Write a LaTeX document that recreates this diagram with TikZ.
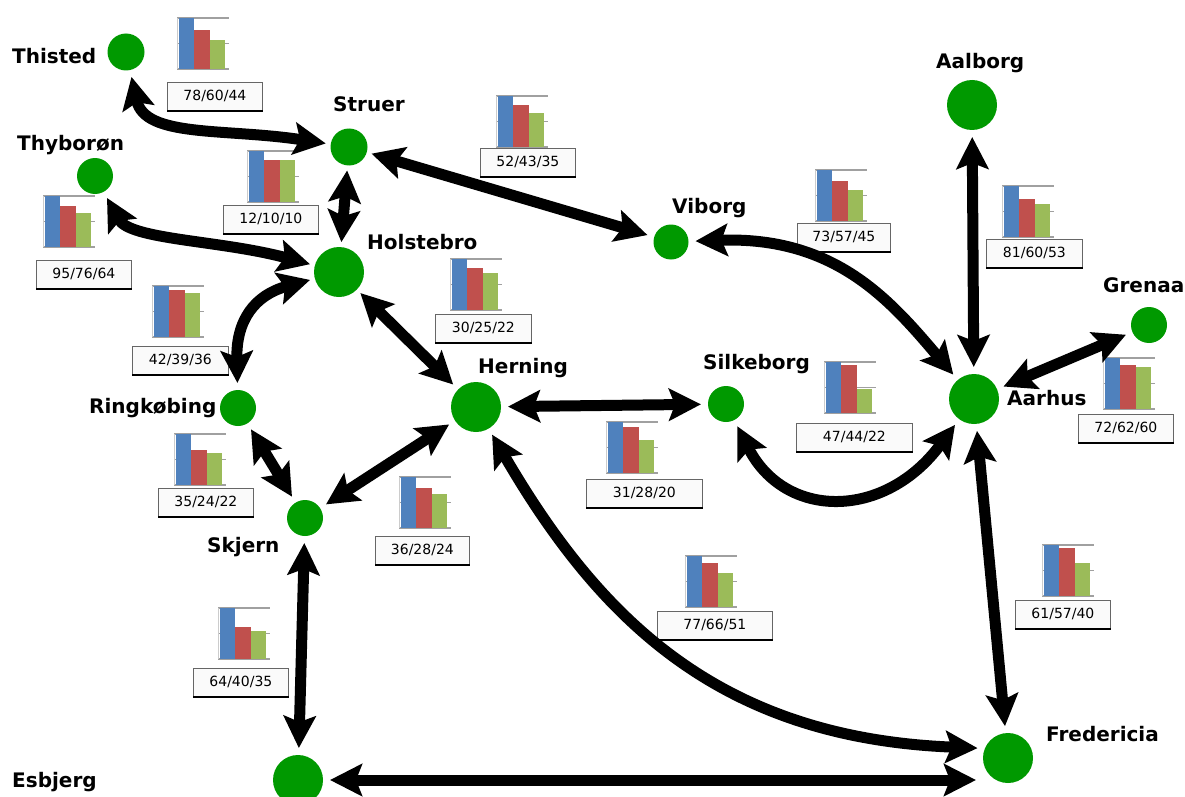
\documentclass[tikz,border=0pt]{standalone}
\usepackage{fontspec}
\setmainfont{DejaVu Sans}
\usetikzlibrary{arrows.meta}
\definecolor{cgreen}{RGB}{0,153,0}
\definecolor{cblue}{RGB}{79,129,189}
\definecolor{cred}{RGB}{192,80,77}
\definecolor{cgrn}{RGB}{155,187,89}
\definecolor{cgrid}{RGB}{160,160,160}
\tikzset{
  city/.style={circle, fill=cgreen, inner sep=0pt, outer sep=7pt, minimum size=#1pt},
  city/.default=36,
  cname/.style={font=\fontsize{20}{24}\selectfont\bfseries, inner sep=0pt, anchor=base west},
  valbox/.style={draw=black!60, fill=black!2, line width=0.8pt, minimum height=28pt, inner sep=0pt,
    font=\fontsize{14}{16}\selectfont},
  gridline/.style={cgrid, line width=1.5pt},
  axisline/.style={black!20, line width=1pt},
  link/.style={line width=11pt, >={Stealth[length=32pt,width=32pt,inset=6pt]}, <->},
}
\newcommand\minichart[9]{%
  \pgfmathsetmacro\hr{51*#5/#4}%
  \pgfmathsetmacro\hg{51*#6/#4}%
  \draw[gridline] (#2,#3) -- ++(52,0) (#2,#3+25.5) -- ++(52,0) (#2,#3+51) -- ++(52,0);
  \draw[axisline] (#2,#3) -- (#2,#3+51);
  \fill[cblue] (#2+2,#3+51) rectangle (#2+17,#3);
  \fill[cred] (#2+17,#3+51) rectangle (#2+33,#3+51-\hr);
  \fill[cgrn] (#2+33,#3+51) rectangle (#2+48,#3+51-\hg);
  \node[valbox, minimum width=#9pt, anchor=north west] (#1) at (#7,#8) {#4/#5/#6};
  \draw[line width=2pt] (#1.south west) -- (#1.south east);
}
\begin{document}
\begin{tikzpicture}[x=1pt, y=-1pt]
\useasboundingbox[fill=white] (0,0) rectangle (1185,797);

% charts
\minichart{c1}{177}{18}{78}{60}{44}{167}{82}{95}
\minichart{c2}{247}{151}{12}{10}{10}{223}{205}{95}
\minichart{c3}{43}{196}{95}{76}{64}{36}{260}{95}
\minichart{c4}{496}{96}{52}{43}{35}{480}{148}{95}
\minichart{c5}{450}{259}{30}{25}{22}{435}{314}{96}
\minichart{c6}{152}{286}{42}{39}{36}{132}{346}{96}
\minichart{c7}{815}{170}{73}{57}{45}{797}{223}{93}
\minichart{c8}{1002}{186}{81}{60}{53}{986}{239}{96}
\minichart{c9}{1103}{358}{72}{62}{60}{1078}{414}{95}
\minichart{c10}{824}{362}{47}{44}{22}{796}{423}{116}
\minichart{c11}{606}{422}{31}{28}{20}{586}{479}{116}
\minichart{c12}{174}{434}{35}{24}{22}{158}{488}{95}
\minichart{c13}{399}{477}{36}{28}{24}{375}{536}{94}
\minichart{c14}{685}{556}{77}{66}{51}{657}{611}{115}
\minichart{c15}{1042}{545}{61}{57}{40}{1015}{600}{95}
\minichart{c16}{218}{608}{64}{40}{35}{193}{668}{95}

% cities
\node[city=37] (thisted) at (126,52) {};
\node[city=37, outer sep=5pt] (struer) at (349,147) {};
\node[city=36] (thyboron) at (95,176) {};
\node[city=50, outer sep=5pt] (holstebro) at (339,272) {};
\node[city=35] (viborg) at (671,242) {};
\node[city=50] (aalborg) at (972,105) {};
\node[city=36] (grenaa) at (1149,325) {};
\node[city=50] (aarhus) at (974,399) {};
\node[city=50] (herning) at (476,407) {};
\node[city=36] (silkeborg) at (726,404) {};
\node[city=36] (ringkobing) at (238,408) {};
\node[city=36] (skjern) at (305,518) {};
\node[city=50] (esbjerg) at (298,780) {};
\node[city=50] (fredericia) at (1008,758) {};

% labels
\node[cname] (lthisted) at (12,64) {Thisted};
\node[cname] (lstruer) at (333,112) {Struer};
\node[cname] (lthyboron) at (17,150) {Thyborøn};
\node[cname] (lholstebro) at (367,249) {Holstebro};
\node[cname] (lviborg) at (672,213) {Viborg};
\node[cname] (laalborg) at (936,69) {Aalborg};
\node[cname] (lgrenaa) at (1103,292) {Grenaa};
\node[cname] (laarhus) at (1007,405) {Aarhus};
\node[cname] (lherning) at (478,373) {Herning};
\node[cname] (lsilkeborg) at (703,369) {Silkeborg};
\node[cname] (lringkobing) at (89,413) {Ringkøbing};
\node[cname] (lskjern) at (207,552) {Skjern};
\node[cname] (lesbjerg) at (12,787) {Esbjerg};
\node[cname] (lfredericia) at (1046,741) {Fredericia};

% connectors
\draw[link] (thisted) .. controls (145,138) and (225,128) .. (struer);
\draw[link] (struer) -- (holstebro);
\draw[link] (thyboron) .. controls (130,240) and (220,240) .. (holstebro);
\draw[link] (struer) -- (viborg);
\draw[link] (holstebro) .. controls (255,295) and (236,320) .. (ringkobing);
\draw[link] (holstebro) -- (herning);
\draw[link] (viborg) .. controls (835,236) and (890,300) .. (aarhus);
\draw[link] (aalborg) -- (aarhus);
\draw[link] (grenaa) -- (aarhus);
\draw[link] (herning) -- (silkeborg);
\draw[link] (silkeborg) .. controls (785,520) and (885,520) .. (aarhus);
\draw[link] (aarhus) -- (fredericia);
\draw[link] (ringkobing) -- (skjern);
\draw[link] (herning) -- (skjern);
\draw[link] (herning) .. controls (600,620) and (720,738) .. (fredericia.162);
\draw[link] (skjern) -- (esbjerg);
\coordinate (fe) at (fredericia.west |- esbjerg);
\draw[link] (esbjerg) -- (fe);
\end{tikzpicture}
\end{document}
